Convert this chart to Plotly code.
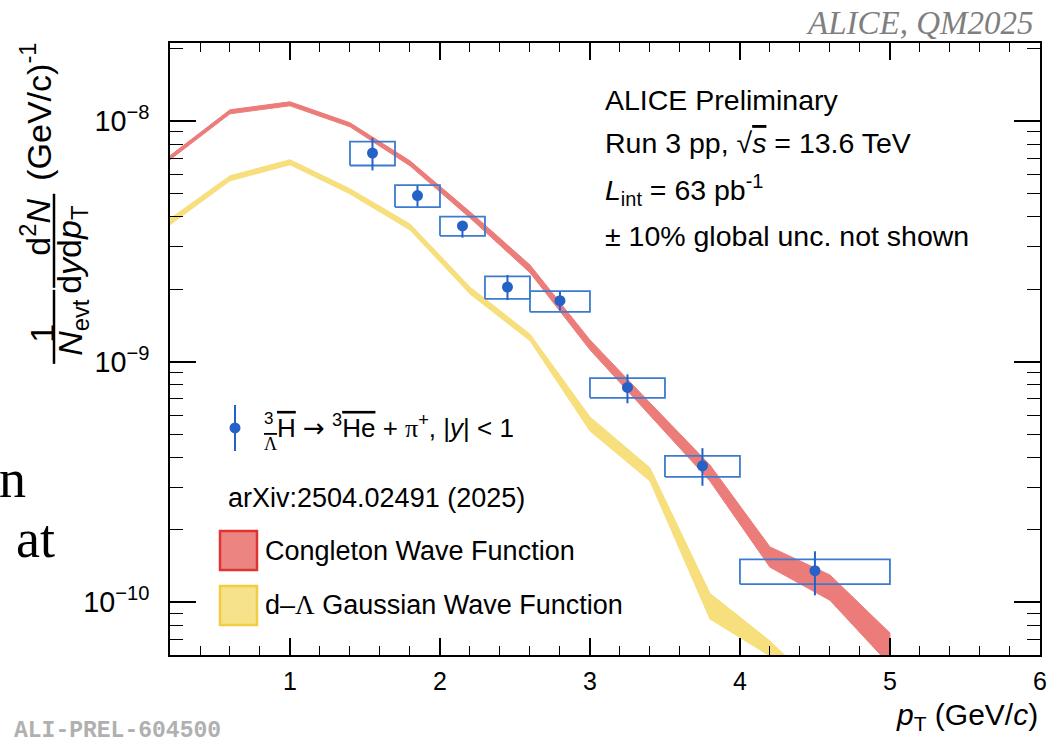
import plotly.graph_objects as go

# ---------------- data ----------------
pt      = [1.55, 1.85, 2.15, 2.45, 2.8, 3.25, 3.75, 4.5]
pt_lo   = [1.4, 1.7, 2.0, 2.3, 2.6, 3.0, 3.5, 4.0]
pt_hi   = [1.7, 2.0, 2.3, 2.6, 3.0, 3.5, 4.0, 5.0]
yields  = [7.34e-9, 4.89e-9, 3.66e-9, 2.04e-9, 1.79e-9, 7.81e-10, 3.69e-10, 1.354e-10]
stat_hi = [8.50e-9, 5.37e-9, 3.84e-9, 2.29e-9, 1.95e-9, 8.85e-10, 4.37e-10, 1.63e-10]
stat_lo = [6.22e-9, 4.40e-9, 3.27e-9, 1.80e-9, 1.63e-9, 6.71e-10, 3.05e-10, 1.07e-10]
sys_hi  = [8.20e-9, 5.41e-9, 4.00e-9, 2.26e-9, 1.96e-9, 8.53e-10, 4.06e-10, 1.51e-10]
sys_lo  = [6.52e-9, 4.38e-9, 3.33e-9, 1.82e-9, 1.61e-9, 7.07e-10, 3.32e-10, 1.19e-10]

model_pt = [0.2, 0.6, 1.0, 1.4, 1.8, 2.2, 2.6, 3.0, 3.4, 3.8, 4.2, 4.6, 5.0]
cong_hi  = [7.16e-9, 1.111e-8, 1.199e-8, 9.81e-9, 6.82e-9, 4.19e-9, 2.52e-9, 1.23e-9,
            6.74e-10, 3.72e-10, 1.70e-10, 1.30e-10, 7.46e-11]
cong_lo  = [6.89e-9, 1.069e-8, 1.154e-8, 9.44e-9, 6.50e-9, 3.95e-9, 2.34e-9, 1.12e-9,
            5.95e-10, 3.19e-10, 1.40e-10, 1.02e-10, 5.50e-11]

gaus_pt  = [0.2, 0.6, 1.0, 1.4, 1.8, 2.2, 2.6, 3.0, 3.4, 3.8, 4.2, 4.6]
gaus_hi  = [3.92e-9, 5.91e-9, 6.89e-9, 5.22e-9, 3.73e-9, 2.04e-9, 1.30e-9, 5.89e-10,
            3.62e-10, 1.09e-10, 6.91e-11, 4.0e-11]
gaus_lo  = [3.70e-9, 5.63e-9, 6.57e-9, 4.97e-9, 3.52e-9, 1.91e-9, 1.22e-9, 5.15e-10,
            3.19e-10, 8.53e-11, 5.99e-11, 3.3e-11]

x_ticks = [1, 2, 3, 4, 5, 6]

# ---------------- style ----------------
SANS = "Liberation Sans"
SERIF = "Liberation Serif"
BLUE = "#2462c8"
BOX_BLUE = "#3d7bd0"
RED = "rgb(236,124,122)"
YEL = "rgb(246,223,124)"

L, R, T, B = 170.0, 1040.0, 43.3, 655.0
W, H = 1048, 743


def pxx(x):
    return (x - L) / (R - L)


def pyy(y):
    return (B - y) / (B - T)


fig = go.Figure()

# model bands
fig.add_trace(go.Scatter(
    x=gaus_pt + gaus_pt[::-1], y=gaus_hi + gaus_lo[::-1],
    fill="toself", fillcolor=YEL, mode="lines", line=dict(color=YEL, width=1),
    hoverinfo="skip", showlegend=False))
fig.add_trace(go.Scatter(
    x=model_pt + model_pt[::-1], y=cong_hi + cong_lo[::-1],
    fill="toself", fillcolor=RED, mode="lines", line=dict(color=RED, width=1),
    hoverinfo="skip", showlegend=False))

# systematic boxes
bx, by = [], []
for lo, hi, slo, shi in zip(pt_lo, pt_hi, sys_lo, sys_hi):
    bx += [lo, hi, hi, lo, lo, None]
    by += [slo, slo, shi, shi, slo, None]
fig.add_trace(go.Scatter(x=bx, y=by, mode="lines",
                         line=dict(color=BOX_BLUE, width=1.8),
                         hoverinfo="skip", showlegend=False))

# data points with statistical errors
fig.add_trace(go.Scatter(
    x=pt, y=yields, mode="markers",
    marker=dict(color=BLUE, size=11, symbol="circle"),
    error_y=dict(type="data", symmetric=False,
                 array=[h - v for h, v in zip(stat_hi, yields)],
                 arrayminus=[v - l for l, v in zip(stat_lo, yields)],
                 color=BLUE, thickness=2, width=0),
    showlegend=False))

# ---------------- axes ----------------
fig.update_xaxes(
    range=[0.2, 6.0005], tickvals=x_ticks, ticktext=[str(v) for v in x_ticks],
    ticks="inside", ticklen=17, tickwidth=1.5, tickcolor="black",
    minor=dict(ticks="inside", ticklen=9, tickwidth=1.3, dtick=0.2, tick0=0, tickcolor="black"),
    showline=True, linecolor="black", linewidth=2, mirror="ticks",
    showgrid=False, zeroline=False, automargin=False,
    tickfont=dict(size=25, family=SANS, color="black"), ticklabelstandoff=3)

fig.update_yaxes(
    type="log", range=[-10.2185, -7.677], dtick=1, exponentformat="power",
    ticks="inside", ticklen=26, tickwidth=1.5, tickcolor="black",
    minor=dict(ticks="inside", ticklen=13, tickwidth=1.3, dtick="D1", tickcolor="black"),
    showline=True, linecolor="black", linewidth=2, mirror="ticks",
    showgrid=False, zeroline=False, automargin=False,
    tickfont=dict(size=23, family=SANS, color="black"), ticklabelstandoff=14)

# ---------------- texts ----------------
ann = []


def txt(x, y, s, size=27, xanchor="left", yanchor="middle", family=SANS,
        color="black", angle=0):
    ann.append(dict(x=pxx(x), y=pyy(y), xref="paper", yref="paper", text=s,
                    showarrow=False, xanchor=xanchor, yanchor=yanchor,
                    textangle=angle, font=dict(size=size, family=family, color=color)))


OL = "<span style='text-decoration:overline'>{}</span>"
GR = "<span style='font-family:Liberation Serif'>{}</span>"
AR = "<span style='font-family:DejaVu Sans'>→</span>"

# info block
txt(603, 100, "ALICE Preliminary", size=28.5)
txt(603, 143, "Run 3 pp, √" + OL.format("<i>s</i>") + " = 13.6 TeV", size=28.5)
txt(603, 190, "<i>L</i><sub>int</sub> = 63 pb<sup>-1</sup>", size=28.5)
txt(603, 236, "± 10% global unc. not shown", size=28.5)

# legend
txt(262, 419, "3", size=17)
txt(262, 444, OL.format(GR.format("Λ")), size=18)
txt(275, 427, OL.format("H") + " " + AR + " <sup>3</sup>" + OL.format("He") + " + "
    + GR.format("π") + "<sup>+</sup>, |<i>y</i>| &lt; 1", size=26)
txt(226, 498, "arXiv:2504.02491 (2025)")
txt(263, 551, "Congleton Wave Function")
txt(263, 605, "d–" + GR.format("Λ") + " Gaussian Wave Function")

# x-axis title
txt(1040, 716, "<i>p</i><sub>T</sub> (GeV/<i>c</i>)", size=30, xanchor="right")

# y-axis title (rotated pieces)
txt(36, 112, "(GeV/c)<sup>-1</sup>", size=34, xanchor="center", angle=-90)
txt(36, 228, "d<sup>2</sup><i>N</i>", size=34, xanchor="center", angle=-90)
txt(72, 250, "d<i>y</i>d<i>p</i><sub>T</sub>", size=34, xanchor="center", angle=-90)
txt(42, 334, "1", size=34, xanchor="center", angle=-90)
txt(73, 328, "<i>N</i><sub>evt</sub>", size=34, xanchor="center", angle=-90)

# decorations around
txt(1036, 23, "<i>ALICE, QM2025</i>", size=33, xanchor="right", family=SERIF, color="#7f7f7f")
txt(12, 731, "<b>ALI-PREL-604500</b>", size=23, family="Liberation Mono", color="#b0b0b0")
txt(-3, 479, "n", size=54, family=SERIF)
txt(14, 539, "at", size=54, family=SERIF)

# ---------------- shapes (legend symbols, fraction bars) ----------------
shapes = []
shapes.append(dict(type="line", xref="paper", yref="paper",
                   x0=pxx(235), x1=pxx(235), y0=pyy(405), y1=pyy(451),
                   line=dict(color=BLUE, width=2)))
shapes.append(dict(type="circle", xref="paper", yref="paper",
                   x0=pxx(229.5), x1=pxx(240.5), y0=pyy(433.5), y1=pyy(422.5),
                   fillcolor=BLUE, line=dict(color=BLUE, width=0)))
shapes.append(dict(type="rect", xref="paper", yref="paper",
                   x0=pxx(220), x1=pxx(257), y0=pyy(570), y1=pyy(531),
                   fillcolor="rgb(236,132,130)", line=dict(color="rgb(222,52,50)", width=2.5)))
shapes.append(dict(type="rect", xref="paper", yref="paper",
                   x0=pxx(220), x1=pxx(257), y0=pyy(625), y1=pyy(586),
                   fillcolor="rgb(247,226,140)", line=dict(color="rgb(242,204,66)", width=2.5)))
shapes.append(dict(type="line", xref="paper", yref="paper",
                   x0=pxx(54), x1=pxx(54), y0=pyy(290), y1=pyy(364),
                   line=dict(color="black", width=2.5)))
shapes.append(dict(type="line", xref="paper", yref="paper",
                   x0=pxx(54), x1=pxx(54), y0=pyy(194), y1=pyy(288),
                   line=dict(color="black", width=2.5)))

fig.update_layout(
    width=W, height=H, autosize=False,
    margin=dict(l=L, r=W - R, t=T, b=H - B, pad=0, autoexpand=False),
    paper_bgcolor="white", plot_bgcolor="white",
    font=dict(family=SANS, color="black"),
    annotations=ann, shapes=shapes, showlegend=False)

fig.write_html("out.html")
